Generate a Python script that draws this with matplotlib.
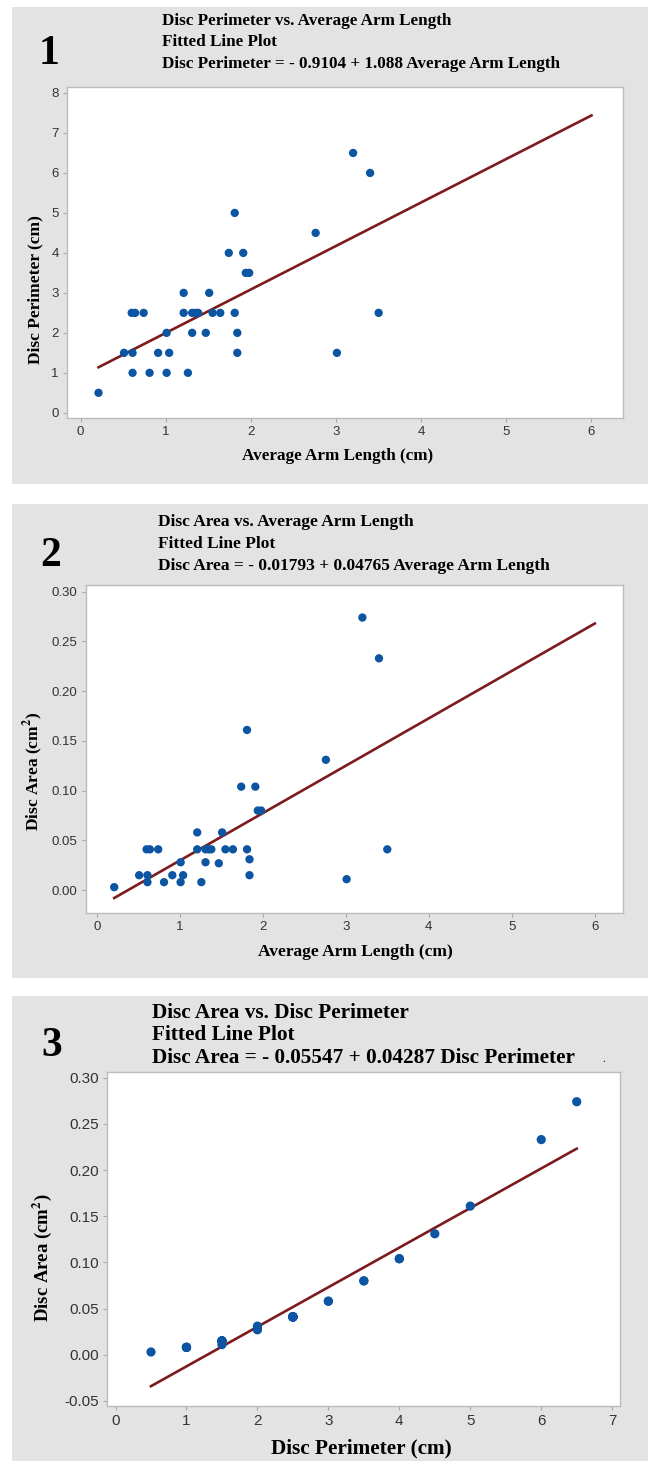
import matplotlib
matplotlib.use("Agg")
import matplotlib.pyplot as plt
from matplotlib.patches import Rectangle
import numpy as np

# ============================================================================
# DATA
# ============================================================================
arm_length = [0.21, 0.51, 0.61, 0.61, 0.60, 0.64, 0.74, 0.81, 0.91, 1.01,
              1.01, 1.04, 1.21, 1.21, 1.26, 1.31, 1.31, 1.35, 1.38, 1.47,
              1.51, 1.55, 1.64, 1.74, 1.81, 1.81, 1.84, 1.84, 1.91, 1.94,
              1.98, 2.76, 3.01, 3.20, 3.40, 3.50]
perimeter = [0.5, 1.5, 1.5, 1.0, 2.5, 2.5, 2.5, 1.0, 1.5, 2.0,
             1.0, 1.5, 3.0, 2.5, 1.0, 2.0, 2.5, 2.5, 2.5, 2.0,
             3.0, 2.5, 2.5, 4.0, 5.0, 2.5, 2.0, 1.5, 4.0, 3.5,
             3.5, 4.5, 1.5, 6.5, 6.0, 2.5]
area = [0.003, 0.015, 0.015, 0.008, 0.041, 0.041, 0.041, 0.008, 0.015, 0.028,
        0.008, 0.015, 0.058, 0.041, 0.008, 0.028, 0.041, 0.041, 0.041, 0.027,
        0.058, 0.041, 0.041, 0.104, 0.161, 0.041, 0.031, 0.015, 0.104, 0.080,
        0.080, 0.131, 0.011, 0.274, 0.233, 0.041]

# fitted lines as drawn: (intercept, slope, x start, x end)
fit_1 = (0.9104, 1.088, 0.21, 6.0)
fit_2 = (-0.01793, 0.04765, 0.21, 6.0)
fit_3 = (-0.05547, 0.04287, 0.5, 6.5)

titles_1 = ["Disc Perimeter vs. Average Arm Length", "Fitted Line Plot",
            "Disc Perimeter = - 0.9104 + 1.088 Average Arm Length"]
titles_2 = ["Disc Area vs. Average Arm Length", "Fitted Line Plot",
            "Disc Area = - 0.01793 + 0.04765 Average Arm Length"]
titles_3 = ["Disc Area vs. Disc Perimeter", "Fitted Line Plot",
            "Disc Area = - 0.05547 + 0.04287 Disc Perimeter"]

ticks_x_1 = [0, 1, 2, 3, 4, 5, 6]
ticks_y_1 = [0, 1, 2, 3, 4, 5, 6, 7, 8]
ticks_y_2 = [0.00, 0.05, 0.10, 0.15, 0.20, 0.25, 0.30]
ticks_x_3 = [0, 1, 2, 3, 4, 5, 6, 7]
ticks_y_3 = [-0.05, 0.00, 0.05, 0.10, 0.15, 0.20, 0.25, 0.30]

# ============================================================================
# STYLE
# ============================================================================
W, H = 654, 1461
PANEL_BG = "#e3e3e3"
DOT = "#0b55a3"
LINE = "#7d1a1d"
SERIF = ["Liberation Serif", "DejaVu Serif"]
TICKFONT = ["Liberation Sans Narrow", "Liberation Sans", "DejaVu Sans"]
plt.rcParams["mathtext.fontset"] = "stix"

fig = plt.figure(figsize=(W / 100, H / 100), dpi=100)
fig.patch.set_facecolor("white")


def px_text(x, y, s, **kw):
    fig.text(x / W, 1 - y / H, s, **kw)


def px_axes(left, top, right, bottom):
    ax = fig.add_axes([left / W, 1 - bottom / H, (right - left) / W, (bottom - top) / H])
    ax.set_facecolor("white")
    ax.set_zorder(2)
    return ax


def grey_panel(left, top, right, bottom):
    fig.patches.append(Rectangle((left / W, 1 - bottom / H), (right - left) / W,
                                 (bottom - top) / H, transform=fig.transFigure,
                                 facecolor=PANEL_BG, edgecolor="none", zorder=-5))


def style_axes(ax, tick_size):
    for sp in ax.spines.values():
        sp.set_color("#bcbcbc")
        sp.set_linewidth(1.0)
    ax.tick_params(direction="out", length=3, width=0.8, color="#a8a8a8",
                   labelsize=tick_size, labelcolor="#333333", pad=3)
    for lab in ax.get_xticklabels() + ax.get_yticklabels():
        lab.set_family(TICKFONT)


def draw_panel(ax, x, y, fit, msize):
    ax.scatter(x, y, s=msize, color=DOT, edgecolors="none", zorder=3)
    b0, b1, xs, xe = fit
    xx = np.array([xs, xe])
    ax.plot(xx, b0 + b1 * xx, color=LINE, lw=1.9, zorder=2)


# ---------------------------------------------------------------- panel 1
grey_panel(12, 7, 648, 484)
ax1 = px_axes(67, 87, 623, 418)
draw_panel(ax1, arm_length, perimeter, fit_1, 36)
ax1.set_xlim(-0.16, 6.37)
ax1.set_ylim(-0.13, 8.15)
ax1.set_xticks(ticks_x_1)
ax1.set_yticks(ticks_y_1)
style_axes(ax1, 9.5)
px_text(49, 54, "1", family=SERIF, weight="bold", fontsize=30, ha="center", va="center")
for i, t in enumerate(titles_1):
    px_text(162, 21 + 21.5 * i, t, family=SERIF, weight="bold", fontsize=12.3, va="center")
px_text(338, 456, "Average Arm Length (cm)", family=SERIF, weight="bold",
        fontsize=12.3, ha="center", va="center")
px_text(35, 290, "Disc Perimeter (cm)", family=SERIF, weight="bold",
        fontsize=12.5, ha="center", va="center", rotation=90)

# ---------------------------------------------------------------- panel 2
grey_panel(12, 504, 648, 978)
ax2 = px_axes(86, 585, 623, 913)
draw_panel(ax2, arm_length, area, fit_2, 36)
ax2.set_xlim(-0.13, 6.34)
ax2.set_ylim(-0.023, 0.3067)
ax2.set_xticks(ticks_x_1)
ax2.set_yticks(ticks_y_2)
ax2.set_yticklabels([f"{v:.2f}" for v in ticks_y_2])
style_axes(ax2, 9.5)
px_text(51, 556, "2", family=SERIF, weight="bold", fontsize=30, ha="center", va="center")
for i, t in enumerate(titles_2):
    px_text(158, 522 + 22 * i, t, family=SERIF, weight="bold", fontsize=12.5, va="center")
px_text(355, 952, "Average Arm Length (cm)", family=SERIF, weight="bold",
        fontsize=12.5, ha="center", va="center")
px_text(33, 771, r"Disc Area (cm$^{\mathbf{2}}$)", family=SERIF, weight="bold",
        fontsize=12.5, ha="center", va="center", rotation=90)

# ---------------------------------------------------------------- panel 3
grey_panel(12, 996, 648, 1461)
ax3 = px_axes(107, 1072, 620, 1406)
draw_panel(ax3, perimeter, area, fit_3, 44)
ax3.set_xlim(-0.12, 7.11)
ax3.set_ylim(-0.0555, 0.3062)
ax3.set_xticks(ticks_x_3)
ax3.set_yticks(ticks_y_3)
ax3.set_yticklabels([f"{v:.2f}" for v in ticks_y_3])
style_axes(ax3, 11)
px_text(52, 1046, "3", family=SERIF, weight="bold", fontsize=30, ha="center", va="center")
for i, t in enumerate(titles_3):
    px_text(152, 1013 + 22.5 * i, t, family=SERIF, weight="bold", fontsize=15.3, va="center")
px_text(361, 1448, "Disc Perimeter (cm)", family=SERIF, weight="bold",
        fontsize=15.3, ha="center", va="center")
px_text(42, 1258, r"Disc Area (cm$^{\mathbf{2}}$)", family=SERIF, weight="bold",
        fontsize=13.5, ha="center", va="center", rotation=90)
px_text(604, 1060, ".", family=SERIF, fontsize=8, ha="center", va="center")

fig.savefig("out.png", dpi=100)
